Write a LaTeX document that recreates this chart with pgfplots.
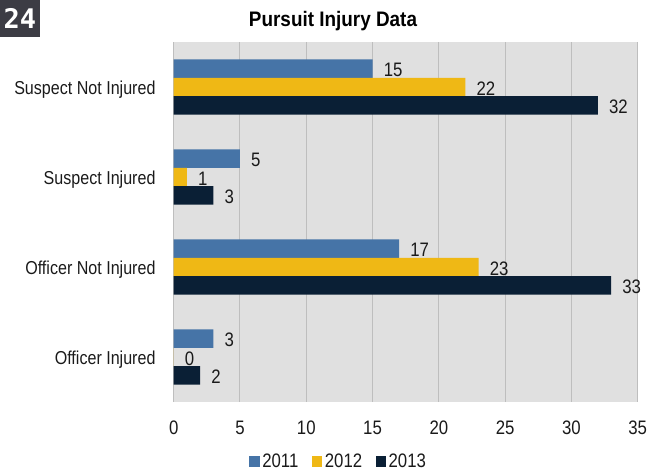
\documentclass[border=0pt]{standalone}
\usepackage{fontspec}
\setmainfont{Liberation Sans}[FakeStretch=0.86]
\newfontfamily\titlefont{Liberation Sans}[FakeStretch=0.9]
\newfontfamily\badgefont{DejaVu Sans Mono Bold}
\usepackage{pgfplots}
\pgfplotsset{compat=1.18}
\definecolor{c2011}{HTML}{4674A7}
\definecolor{c2012}{HTML}{EFB815}
\definecolor{c2013}{HTML}{0A1F35}
\definecolor{bg}{HTML}{E0E0E0}
\definecolor{gridc}{HTML}{BEBEBE}
\definecolor{badge}{HTML}{3C3C44}
\definecolor{txt}{HTML}{1A1A1A}
\begin{document}
\begin{tikzpicture}
\path[use as bounding box] (0pt,0pt) rectangle (660pt,-472pt);
\fill[badge] (0pt,0pt) rectangle (40pt,-37pt);
\node[text=white, inner sep=0pt] at (20pt,-18.5pt) {\fontsize{27}{30}\selectfont\badgefont 24};
\node[inner sep=0pt, text=black] at (333pt,-21pt) {\fontsize{21}{24}\selectfont\titlefont\bfseries Pursuit Injury Data};
\begin{axis}[
  at={(173.7pt,-402pt)}, anchor=south west,
  scale only axis, width=464pt, height=360pt,
  xmin=0, xmax=35, ymin=-0.5, ymax=3.5,
  y dir=reverse,
  axis background/.style={fill=bg},
  axis line style={draw=none},
  xtick={0,5,...,35}, ytick={0,1,2,3},
  yticklabels={Suspect Not Injured, Suspect Injured, Officer Not Injured, Officer Injured},
  major tick length=0pt,
  xmajorgrids, ymajorgrids=false,
  grid style={gridc, line width=1pt},
  /pgf/number format/assume math mode=true,
  tick label style={font=\fontsize{18.7}{20}\selectfont, text=txt},
  xticklabel style={inner sep=0pt, anchor=north, yshift=-19pt, font=\fontsize{19.5}{20}\selectfont},
  yticklabel style={inner sep=0pt, anchor=east, xshift=-18pt, yshift=-2.5pt},
  xbar, bar width=0.205,
  nodes near coords,
  nodes near coords style={font=\fontsize{19.5}{20}\selectfont, text=txt, anchor=west, inner sep=0pt, xshift=11pt, yshift=-1.5pt},
  legend columns=3,
  legend style={draw=none, fill=none, at={(0.356,-0.165)}, anchor=center,
    font=\fontsize{19.5}{20}\selectfont, text=txt,
    /tikz/every even column/.append style={column sep=11pt},
    nodes={inner sep=2.5pt}},
  legend image code/.code={\fill[#1, draw=none] (0pt,-5.25pt) rectangle (10.5pt,5.25pt);},
]
\addplot[fill=c2011, draw=none, bar shift=-0.205] coordinates {(15,0) (5,1) (17,2) (3,3)};
\addplot[fill=c2012, draw=none, bar shift=0] coordinates {(22,0) (1,1) (23,2) (0,3)};
\addplot[fill=c2013, draw=none, bar shift=0.205] coordinates {(32,0) (3,1) (33,2) (2,3)};
\legend{2011,2012,2013}
\end{axis}
\end{tikzpicture}
\end{document}
